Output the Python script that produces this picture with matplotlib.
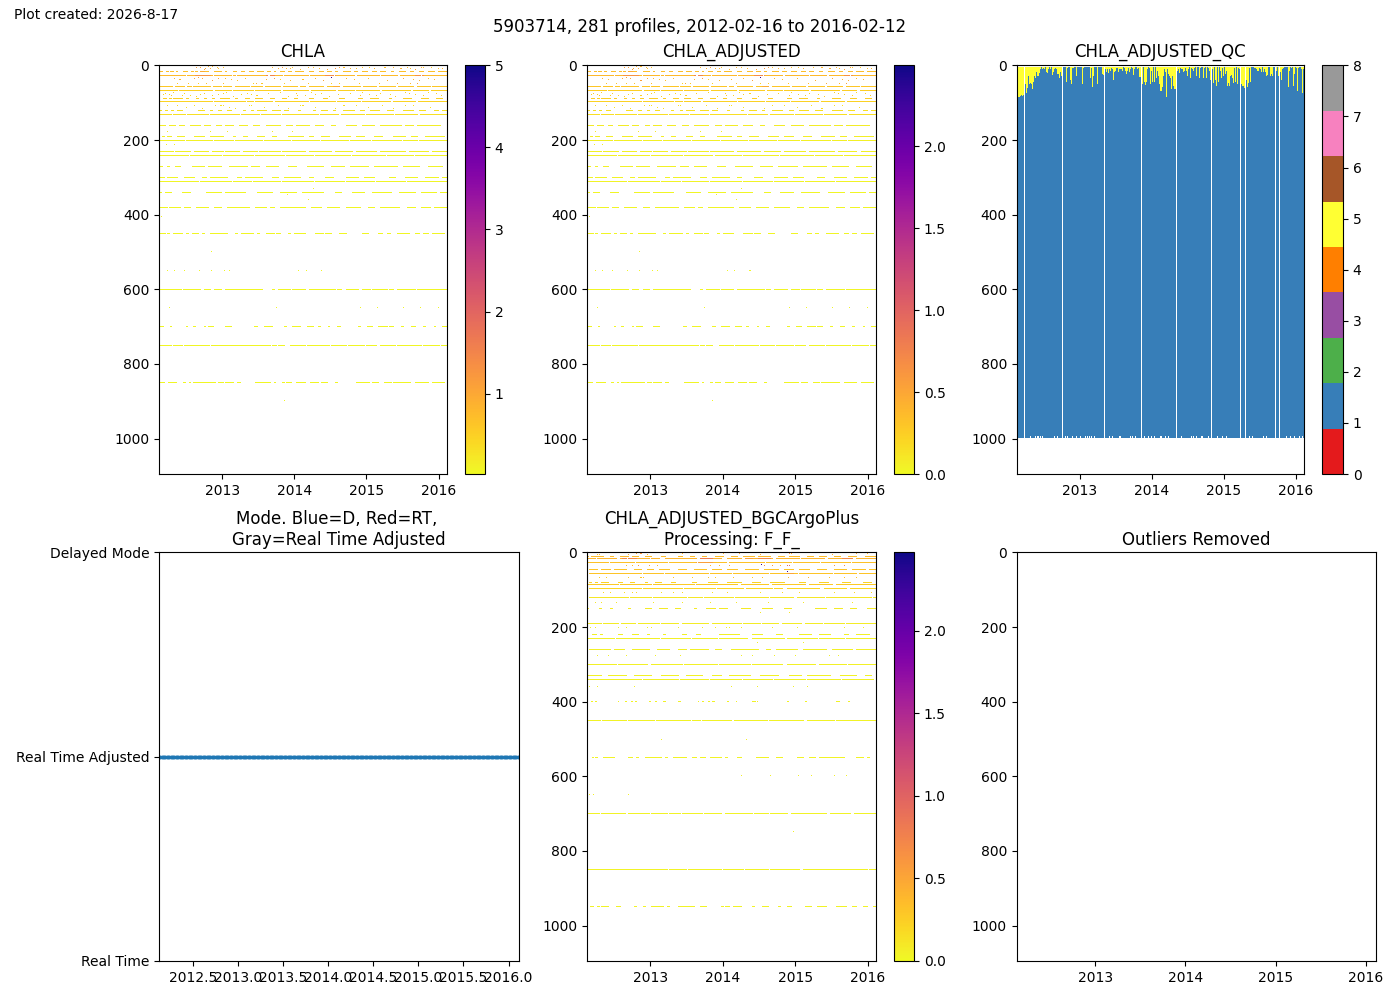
import numpy as np
import matplotlib
matplotlib.use('Agg')
import matplotlib.pyplot as plt

title_main = '5903714, 281 profiles, 2012-02-16 to 2016-02-12'
created = 'Plot created: 2026-8-17'
n_profiles = 281
t_start = 2012.126
t_end = 2016.115
dz = 2.677
z_max = 1095

year_ticks = [2013, 2014, 2015, 2016]
mode_ticks = [2012.5, 2013.0, 2013.5, 2014.0, 2014.5, 2015.0, 2015.5, 2016.0]
depth_ticks = [0, 200, 400, 600, 800, 1000]
mode_labels = ['Real Time', 'Real Time Adjusted', 'Delayed Mode']
mode_values = [1] * n_profiles

# CHLA: depth level, value, runs of profiles that have data on this level
chla_levels = [16, 27, 56, 67, 88, 96, 120, 131, 161, 190, 201, 230, 241, 270, 300, 311, 340, 380, 450, 600, 699, 750, 849]
chla_values = [0.7, 0.75, 0.6, 0.5, 0.5, 0.45, 0.3, 0.3, 0.15, 0.12, 0.1, 0.1, 0.08, 0.08, 0.06, 0.06, 0.05, 0.05, 0.05, 0.05, 0.05, 0.05, 0.05]
chla_runs = [
    [(0,3),(7,9),(11,14),(17,18),(23,27),(31,33),(35,37),(40,48),(54,60),(64,65),(72,75),(80,83),(88,92),(96,101),(105,108),(112,113),(118,122),(126,129),(133,140),(146,150),(156,160),(164,168),(172,174),(180,186),(190,193),(198,203),(208,212),(216,220),(226,228),(234,240),(245,248),(254,258),(262,268),(272,280)],
    [(0,25),(27,52),(54,70),(72,74),(76,105),(108,120),(122,145),(147,170),(172,190),(193,215),(217,232),(235,255),(257,280)],
    [(1,13),(16,24),(27,31),(33,50),(53,60),(62,70),(74,88),(90,100),(103,118),(121,135),(138,142),(146,160),(164,176),(180,196),(199,212),(215,230),(233,248),(252,264),(266,280)],
    [(0,18),(20,52),(55,70),(72,92),(94,118),(121,145),(148,172),(175,190),(192,215),(218,245),(248,262),(265,280)],
    [(4,7),(10,12),(14,22),(26,28),(36,38),(44,46),(52,54),(60,68),(74,76),(84,88),(94,100),(108,112),(120,124),(132,135),(146,150),(160,164),(176,180),(194,198),(206,214),(224,226),(238,246),(256,262),(270,276)],
    [(1,52),(54,84),(86,92),(94,110),(113,145),(147,172),(174,196),(198,225),(228,250),(253,280)],
    [(0,2),(6,8),(12,14),(18,22),(38,44),(50,52),(58,60),(66,70),(82,84),(90,92),(96,104),(110,118),(122,126),(136,138),(150,152),(158,164),(170,172),(180,190),(196,200),(206,215),(222,228),(238,248),(254,260),(268,272),(276,280)],
    [(0,12),(14,25),(27,48),(50,78),(80,98),(100,118),(120,155),(157,175),(178,200),(202,228),(230,252),(255,280)],
    [(0,6),(10,16),(20,24),(30,40),(44,50),(56,60),(64,72),(78,86),(92,98),(104,118),(124,130),(134,146),(152,160),(168,172),(182,192),(198,210),(216,236),(240,248),(252,274)],
    [(3,5),(8,12),(18,24),(34,44),(50,62),(72,74),(82,86),(96,102),(110,114),(126,140),(146,150),(158,166),(176,186),(192,200),(210,218),(228,240),(246,252),(260,278)],
    [(0,24),(26,52),(54,72),(74,100),(102,128),(130,156),(158,184),(186,206),(208,236),(238,252),(254,280)],
    [(1,14),(16,30),(34,48),(52,62),(64,78),(82,96),(98,118),(120,142),(146,168),(172,188),(192,212),(216,240),(244,262),(266,280)],
    [(0,28),(30,60),(62,92),(94,122),(124,150),(152,186),(188,220),(222,248),(250,280)],
    [(1,3),(8,10),(16,20),(32,44),(48,60),(68,86),(90,98),(104,116),(126,134),(144,160),(168,180),(186,204),(210,232),(238,254),(262,276)],
    [(0,5),(8,18),(24,34),(42,46),(50,66),(76,80),(84,100),(110,116),(122,138),(146,150),(162,170),(182,194),(200,210),(224,230),(240,252),(260,272),(276,280)],
    [(0,38),(40,70),(72,90),(92,118),(120,150),(152,180),(182,210),(212,240),(242,280)],
    [(0,2),(6,12),(22,30),(46,60),(64,84),(96,110),(118,134),(140,160),(172,178),(188,200),(208,226),(234,250),(256,270),(274,280)],
    [(0,8),(10,20),(24,30),(36,48),(54,60),(66,88),(94,104),(108,112),(118,142),(148,158),(164,176),(182,196),(204,210),(216,234),(242,250),(256,264),(268,280)],
    [(1,6),(8,10),(14,22),(26,28),(32,38),(42,44),(50,66),(74,76),(80,92),(96,98),(104,112),(114,118),(126,128),(132,142),(152,160),(162,168),(176,182),(198,204),(214,218),(222,225),(232,244),(250,254),(258,262),(266,278)],
    [(0,21),(23,40),(44,50),(54,60),(64,100),(110,112),(116,128),(130,142),(146,172),(174,178),(182,194),(198,206),(208,222),(224,228),(232,250),(252,280)],
    [(0,4),(11,12),(26,27),(33,35),(44,45),(48,53),(64,70),(93,96),(102,110),(122,124),(130,138),(144,150),(155,157),(165,166),(174,177),(194,196),(203,208),(214,222),(224,228),(236,238),(246,250),(258,260),(268,269),(276,280)],
    [(0,12),(14,22),(24,49),(51,108),(110,114),(116,122),(128,142),(144,166),(168,182),(184,200),(202,212),(216,230),(232,256),(258,273),(275,280)],
    [(0,5),(9,17),(23,25),(29,30),(33,55),(58,62),(64,72),(76,79),(94,108),(112,113),(120,122),(124,129),(134,142),(147,155),(158,164),(172,174),(192,205),(208,214),(220,226),(228,245),(250,262),(266,278)],
]
chla_hot_levels = [27, 27, 27, 27, 16, 56]
chla_hot_runs = [(35,50), (104,112), (162,172), (250,258), (38,44), (170,176)]
chla_hot_values = [1.25, 1.5, 1.35, 1.3, 0.95, 0.9]
chla_pts_p = [40,45,48,52,58,42,38,62,145,124,130,138,168,172,180,192,205,220,235,245,258,265,272,18,28,38,46,58,62,92,95,100,118,122,145,168,176,195,215,232,245,252,4,10,14,22,30,40,58,65,80,90,95,118,135,148,152,175,198,205,212,225,240,250,262,275,168,8,55,62,90,140,180,240,8,50,66,110,130,7,15,2,145,150,125,8,
              0,51,15,24,39,51,63,68,136,143,158,10,114,196,213,238,255,272,122,
              36,44,50,57,110,116,120,128,150,156,164,176,186,198,210,228,236,242,250,256,276,
              15,20,34,52,64,70,76,84,104,112,128,140,152,160,182,190,204,222,238,248,254,262,268,
              6,12,24,36,44,52,62,72,86,96,106,126,134,142,158,166,186,196,216,230,244,258,270,
              18,26,34,42,60,68,74,88,102,116,126,138,152,172,192,204,218,228,248,264]
chla_pts_z = [5,8,4,3,8,35,32,6,6,8,5,10,32,7,6,8,5,6,8,9,6,5,7,48,48,48,48,35,48,48,48,48,37,48,48,48,48,48,48,48,48,48,78,78,72,80,80,78,78,72,78,78,80,72,80,72,78,78,72,78,80,78,72,78,72,80,32,107,107,107,107,107,107,107,176,176,176,176,176,212,212,405,360,330,345,550,
              497,497,549,549,549,549,549,549,549,549,549,648,648,648,648,648,648,648,898,
              6,10,8,6,5,9,6,9,5,8,10,6,8,6,9,5,8,6,10,5,8,
              35,38,35,40,35,38,40,35,38,35,40,38,35,40,35,38,35,40,35,38,40,35,38,
              76,80,76,84,76,80,76,84,76,80,76,84,76,80,76,84,76,80,76,84,76,80,76,
              108,112,108,115,108,112,115,108,112,108,115,108,112,115,108,112,108,115,108,112]
chla_pts_v = [1.1,0.9,0.9,0.8,0.7,1.0,1.0,0.7,0.8,0.8,0.7,0.8,4.6,1.2,0.7,0.7,0.6,0.7,0.8,0.7,0.7,0.6,0.7,0.6,0.6,0.5,0.6,1.0,0.7,0.5,0.8,0.6,0.5,0.5,0.6,0.5,0.5,0.6,0.7,0.9,0.8,1.0,0.5,0.5,0.5,0.45,0.4,0.4,0.5,0.4,0.5,0.5,0.4,0.5,0.5,0.4,0.5,0.5,0.4,0.5,0.5,0.4,0.5,0.4,0.4,0.5,4.6,0.3,0.3,0.3,0.3,0.3,0.3,0.3,0.2,0.2,0.2,0.2,0.2,0.15,0.15,0.1,0.1,0.1,0.1,0.08,
              0.05,0.05,0.05,0.05,0.05,0.05,0.05,0.05,0.05,0.05,0.05,0.05,0.05,0.05,0.05,0.05,0.05,0.05,0.05,
              1.1,1.2,0.9,0.8,0.8,0.9,1.1,0.8,0.7,0.8,1.0,1.1,0.8,0.7,0.8,0.8,0.9,0.8,1.1,0.9,0.8,
              0.8,0.8,1.0,1.1,0.8,0.7,0.7,0.7,0.9,1.2,0.8,0.7,0.8,1.1,0.8,0.8,0.7,0.9,1.0,0.8,0.9,0.7,0.8,
              0.5,0.6,0.5,0.5,0.6,0.5,0.5,0.5,0.5,0.6,0.5,0.5,0.6,0.5,0.5,0.5,0.5,0.6,0.5,0.5,0.6,0.5,0.5,
              0.35,0.3,0.3,0.35,0.3,0.3,0.35,0.3,0.3,0.3,0.35,0.3,0.3,0.35,0.3,0.3,0.3,0.35,0.3,0.3]

# BGCArgoPlus adjusted, own depth levels
plus_levels = [11, 16, 27, 45, 56, 80, 86, 96, 120, 150, 190, 220, 230, 260, 300, 329, 340, 399, 450, 549, 699, 849, 948]
plus_values = [0.35, 0.4, 0.32, 0.3, 0.3, 0.22, 0.28, 0.2, 0.1, 0.08, 0.07, 0.05, 0.05, 0.05, 0.04, 0.04, 0.04, 0.03, 0.03, 0.03, 0.03, 0.03, 0.03]
plus_runs = [
    [(0,1),(4,16),(22,25),(32,40),(44,50),(56,62),(72,76),(88,92),(100,104),(112,116),(124,132),(140,146),(152,162),(166,178),(186,192),(196,206),(214,220),(226,232),(240,246),(254,262),(270,280)],
    [(1,8),(10,28),(32,38),(40,60),(62,70),(76,106),(110,130),(136,150),(154,180),(184,206),(208,230),(234,258),(262,280)],
    [(0,20),(22,46),(48,78),(80,106),(108,135),(138,172),(174,198),(200,226),(228,256),(258,280)],
    [(2,10),(14,22),(26,38),(46,52),(58,64),(70,80),(88,96),(104,116),(122,130),(136,146),(154,166),(172,186),(192,200),(206,216),(224,232),(240,252),(258,270),(274,280)],
    [(2,52),(54,74),(76,118),(120,140),(142,176),(178,204),(206,238),(240,262),(264,280)],
    [(2,4),(8,10),(14,20),(30,34),(42,46),(56,58),(66,72),(82,86),(102,106),(118,126),(136,150),(160,168),(178,192),(206,212),(226,234),(248,256),(268,276)],
    [(1,30),(32,62),(64,104),(106,146),(150,176),(180,212),(216,238),(242,280)],
    [(2,52),(54,92),(94,124),(126,152),(155,180),(182,190),(194,226),(230,252),(256,280)],
    [(2,40),(42,62),(64,96),(98,112),(114,142),(144,176),(178,200),(204,230),(232,276),(278,280)],
    [(0,1),(12,14),(22,24),(40,42),(56,62),(70,78),(86,90),(104,106),(116,124),(128,136),(150,158),(170,180),(192,198),(222,232),(240,248),(256,262),(272,280)],
    [(0,14),(16,30),(33,47),(50,70),(72,88),(92,118),(122,150),(152,168),(170,186),(190,208),(212,228),(230,250),(252,280)],
    [(5,9),(13,15),(30,34),(44,50),(58,60),(74,76),(92,96),(106,110),(128,148),(160,170),(184,190),(206,218),(226,236),(250,254),(262,274)],
    [(0,26),(28,70),(72,100),(102,126),(128,156),(160,192),(194,224),(226,250),(252,280)],
    [(2,22),(26,36),(44,60),(68,80),(88,96),(100,118),(124,130),(140,166),(174,178),(184,204),(210,232),(238,258),(262,280)],
    [(0,28),(30,58),(62,92),(94,126),(128,158),(160,190),(194,222),(226,252),(254,280)],
    [(1,14),(20,38),(46,62),(72,88),(96,112),(122,130),(138,158),(168,186),(196,208),(214,236),(246,262),(270,276)],
    [(0,52),(54,88),(90,118),(120,150),(152,180),(182,212),(214,246),(248,278)],
    [(4,5),(8,9),(37,38),(43,44),(47,48),(60,61),(66,67),(74,75),(88,89),(112,113),(118,119),(122,123),(136,137),(160,161),(162,163),(194,195),(212,213),(242,245),(254,255)],
    [(0,13),(15,38),(40,65),(67,100),(102,110),(112,140),(143,175),(177,210),(214,240),(242,280)],
    [(5,6),(8,10),(16,26),(40,44),(48,50),(56,72),(76,78),(84,96),(102,106),(110,115),(120,130),(134,136),(146,150),(164,176),(184,190),(204,210),(216,222),(226,250),(262,268),(272,274)],
    [(0,12),(14,37),(40,60),(62,78),(80,90),(92,112),(114,130),(134,160),(162,176),(178,194),(198,232),(236,256),(260,280)],
    [(0,78),(80,96),(98,130),(132,152),(154,176),(178,206),(210,272),(274,280)],
    [(3,6),(10,12),(14,20),(28,32),(46,48),(54,56),(62,74),(78,80),(88,104),(110,116),(130,132),(134,138),(142,150),(160,162),(170,176),(186,188),(194,198),(212,218),(224,232),(242,252),(258,262),(268,272),(278,280)],
]
plus_hot_levels = [16, 16, 16, 16, 27, 56, 16]
plus_hot_runs = [(34,48), (108,122), (166,178), (248,258), (106,122), (194,200), (152,160)]
plus_hot_values = [0.7, 0.8, 0.7, 0.7, 0.55, 0.5, 0.55]
plus_pts_p = [10,12,40,48,52,58,92,132,148,168,196,198,238,262,272,38,44,50,60,68,120,128,138,172,180,188,194,196,240,250,12,18,40,52,54,84,102,118,124,142,160,170,195,215,235,250,262,16,22,36,44,48,72,84,92,122,136,168,190,206,240,260,276,8,14,28,64,92,120,145,176,210,258,168,196,3,58,62,135,8,30,38,88,112,124,138,150,180,204,250,268,165,210,160,20,38,66,90,10,150,182,202,235,244,140,165,200,214,46,2,10,30,76,90,108,112,145,160,165,72,155,150,178,205,218,240,252,2,6,40,200,169,194]
plus_pts_z = [5,5,5,4,4,6,4,4,4,5,4,3,5,4,3,35,35,35,35,35,35,35,35,35,35,35,35,35,35,35,67,67,67,67,67,67,67,67,67,67,67,67,67,67,67,67,67,108,108,108,108,108,108,108,108,108,108,108,108,108,108,108,108,135,135,135,135,135,135,135,135,135,135,160,160,202,202,202,202,202,202,202,202,202,202,202,202,202,202,202,202,240,240,275,275,275,275,275,275,275,275,275,275,275,360,360,360,360,360,360,360,399,399,399,399,399,399,399,399,500,500,597,597,597,597,597,597,648,648,648,748,32,51]
plus_pts_v = [0.4,0.4,0.5,0.5,0.6,0.4,0.4,0.4,0.5,0.5,0.6,0.5,0.4,0.5,0.4,0.35,0.4,0.6,0.5,0.4,0.4,0.4,0.5,0.7,0.6,0.5,1.0,0.9,0.6,0.7,0.25,0.25,0.25,0.3,0.3,0.3,0.25,0.3,0.25,0.3,0.25,0.3,0.35,0.4,0.3,0.3,0.3,0.2,0.2,0.15,0.2,0.2,0.15,0.2,0.2,0.15,0.2,0.15,0.2,0.2,0.15,0.2,0.2,0.1,0.1,0.1,0.1,0.1,0.1,0.1,0.1,0.1,0.1,0.1,0.1,0.05,0.05,0.05,0.05,0.05,0.05,0.05,0.05,0.05,0.05,0.05,0.05,0.05,0.05,0.05,0.05,0.05,0.05,0.05,0.05,0.05,0.05,0.05,0.05,0.05,0.05,0.05,0.05,0.05,0.05,0.05,0.05,0.05,0.05,0.05,0.05,0.05,0.05,0.05,0.05,0.05,0.05,0.05,0.05,0.05,0.05,0.05,0.05,0.05,0.05,0.05,0.05,0.05,0.05,0.05,0.05,2.3,2.3]

# QC panel: depth where QC 5 stops for each profile, then QC 1 to the bottom
qc_top = [85,85,85,82,80,82,80,80,50,75,62,30,52,48,50,65,45,30,35,20,
          30,22,12,5,12,8,10,5,18,22,10,5,12,5,28,18,12,8,12,25,
          25,35,18,30,5,5,5,5,45,8,5,5,40,50,8,8,5,5,30,5,
          5,5,5,50,8,5,5,5,5,5,5,35,8,58,30,5,5,5,50,5,
          5,5,5,25,28,28,12,18,10,22,12,15,8,12,40,18,15,8,8,20,
          12,10,15,5,8,15,25,15,8,18,12,5,8,28,10,5,5,12,8,33,
          33,33,50,5,45,53,45,10,5,8,50,15,45,5,45,5,35,15,30,50,
          70,60,30,12,20,85,10,25,30,35,64,30,55,64,64,60,15,12,22,8,
          12,10,20,15,8,15,30,10,5,35,8,10,15,8,5,30,5,5,35,8,
          5,35,8,5,35,5,8,15,40,5,10,48,5,40,55,5,45,5,15,35,
          8,30,5,25,15,55,48,55,30,28,35,48,8,45,5,50,8,12,60,50,
          55,62,60,40,60,48,8,45,5,5,5,8,8,10,15,15,8,12,18,5,
          18,12,18,30,28,5,5,30,25,30,5,5,5,15,5,30,12,20,40,12,
          8,5,5,5,58,15,5,8,5,55,25,5,8,69,8,5,5,12,75,10,
          12]
qc_first = 6
qc_missing = [7, 44, 85, 121, 155, 189, 218, 222, 252, 256]
qc_bottom = 998
qc_short = [13, 18, 20, 22, 24, 36, 39, 47, 49, 54, 58, 61, 66, 68, 70, 72, 75, 90, 93, 100, 110, 112, 115, 124, 128, 131, 134, 140, 144, 147, 160, 170, 172, 175, 180, 186, 195, 200, 204, 226, 229, 240, 243, 262, 266, 270, 275, 278]
qc_short_bottom = 993

cmap_chla = plt.get_cmap('plasma_r').copy()
cmap_chla.set_bad((1, 1, 1, 0))
cmap_qc = plt.get_cmap('Set1', 9).copy()
cmap_qc.set_bad((1, 1, 1, 0))

nz = int(round(z_max / dz))


def make_grid(levels, values, runs, hot_levels, hot_runs, hot_values, pts_p, pts_z, pts_v, factor=1.0):
    grid = np.full((nz, n_profiles), np.nan)
    for lev, val, rr in zip(levels, values, runs):
        for a, b in rr:
            grid[round(lev / dz), a:b + 1] = val * factor
    for lev, (a, b), val in zip(hot_levels, hot_runs, hot_values):
        row = grid[round(lev / dz), a:b + 1]
        row[~np.isnan(row)] = val * factor
    for p, z, v in zip(pts_p, pts_z, pts_v):
        grid[round(z / dz), p] = v * factor
    return grid


def qc_grid():
    grid = np.full((nz, n_profiles), np.nan)
    first = round(qc_first / dz)
    for i in range(n_profiles):
        if i in qc_missing:
            continue
        bot = qc_short_bottom if i in qc_short else qc_bottom
        top = max(round(qc_top[i] / dz), first)
        grid[first:top, i] = 5
        grid[top:round(bot / dz), i] = 1
    return grid


def px_axes(fig, x0, x1, y0, y1):
    # pixel box from the top left corner of the 1400x1000 figure
    return fig.add_axes([x0 / 1400, 1 - y1 / 1000, (x1 - x0) / 1400, (y1 - y0) / 1000])


def depth_panel(ax, grid, cmap, vmin, vmax):
    im = ax.imshow(grid, cmap=cmap, vmin=vmin, vmax=vmax, aspect='auto', interpolation='nearest',
                   extent=[t_start, t_end, nz * dz, 0])
    ax.set_xlim(t_start, t_end)
    ax.set_ylim(z_max, 0)
    ax.set_xticks(year_ticks)
    ax.set_xticklabels([str(y) for y in year_ticks])
    ax.set_yticks(depth_ticks)
    return im


fig = plt.figure(figsize=(14, 10), dpi=100)

fig.text(14 / 1400, 1 - 15 / 1000, created, fontsize=10, va='center')
fig.text(700 / 1400, 1 - 27 / 1000, title_main, fontsize=12, ha='center', va='center')

top0, top1 = 65.4, 474
bot0, bot1 = 552.4, 961

# top row
ax1 = px_axes(fig, 159, 447, top0, top1)
g1 = make_grid(chla_levels, chla_values, chla_runs, chla_hot_levels, chla_hot_runs, chla_hot_values,
               chla_pts_p, chla_pts_z, chla_pts_v)
im1 = depth_panel(ax1, g1, cmap_chla, 0.02, 5.0)
ax1.set_title('CHLA')
cb1 = fig.colorbar(im1, cax=px_axes(fig, 465, 485, top0, top1))
cb1.set_ticks([1, 2, 3, 4, 5])

ax2 = px_axes(fig, 587, 876, top0, top1)
g2 = make_grid(chla_levels, chla_values, chla_runs, chla_hot_levels, chla_hot_runs, chla_hot_values,
               chla_pts_p, chla_pts_z, chla_pts_v, factor=0.5)
im2 = depth_panel(ax2, g2, cmap_chla, 0.0, 2.495)
ax2.set_title('CHLA_ADJUSTED')
cb2 = fig.colorbar(im2, cax=px_axes(fig, 894, 914, top0, top1))
cb2.set_ticks([0, 0.5, 1.0, 1.5, 2.0])

ax3 = px_axes(fig, 1016.6, 1304, top0, top1)
im3 = depth_panel(ax3, qc_grid(), cmap_qc, 0, 8)
ax3.set_title('CHLA_ADJUSTED_QC')
cb3 = fig.colorbar(im3, cax=px_axes(fig, 1322, 1343, top0, top1))
cb3.set_ticks(list(range(9)))

# bottom row
ax4 = px_axes(fig, 159, 519, bot0, bot1)
ax4.scatter(np.linspace(t_start, t_end, n_profiles), mode_values, s=3, color='C0')
ax4.set_xlim(t_start, t_end)
ax4.set_ylim(0, 2)
ax4.set_xticks(mode_ticks)
ax4.set_xticklabels(['%.1f' % t for t in mode_ticks])
ax4.set_yticks([0, 1, 2])
ax4.set_yticklabels(mode_labels)
ax4.set_title('Mode. Blue=D, Red=RT, \nGray=Real Time Adjusted', pad=5.3)

ax5 = px_axes(fig, 587, 876, bot0, bot1)
g5 = make_grid(plus_levels, plus_values, plus_runs, plus_hot_levels, plus_hot_runs, plus_hot_values,
               plus_pts_p, plus_pts_z, plus_pts_v)
im5 = depth_panel(ax5, g5, cmap_chla, 0.0, 2.475)
ax5.set_title('CHLA_ADJUSTED_BGCArgoPlus\nProcessing: F_F_', pad=5.3)
cb5 = fig.colorbar(im5, cax=px_axes(fig, 894, 914, bot0, bot1))
cb5.set_ticks([0, 0.5, 1.0, 1.5, 2.0])

ax6 = px_axes(fig, 1016.6, 1376, bot0, bot1)
ax6.set_xlim(t_start, t_end)
ax6.set_ylim(z_max, 0)
ax6.set_xticks(year_ticks)
ax6.set_xticklabels([str(y) for y in year_ticks])
ax6.set_yticks(depth_ticks)
ax6.set_title('Outliers Removed', pad=5.3)

fig.savefig('out.png', dpi=100)
